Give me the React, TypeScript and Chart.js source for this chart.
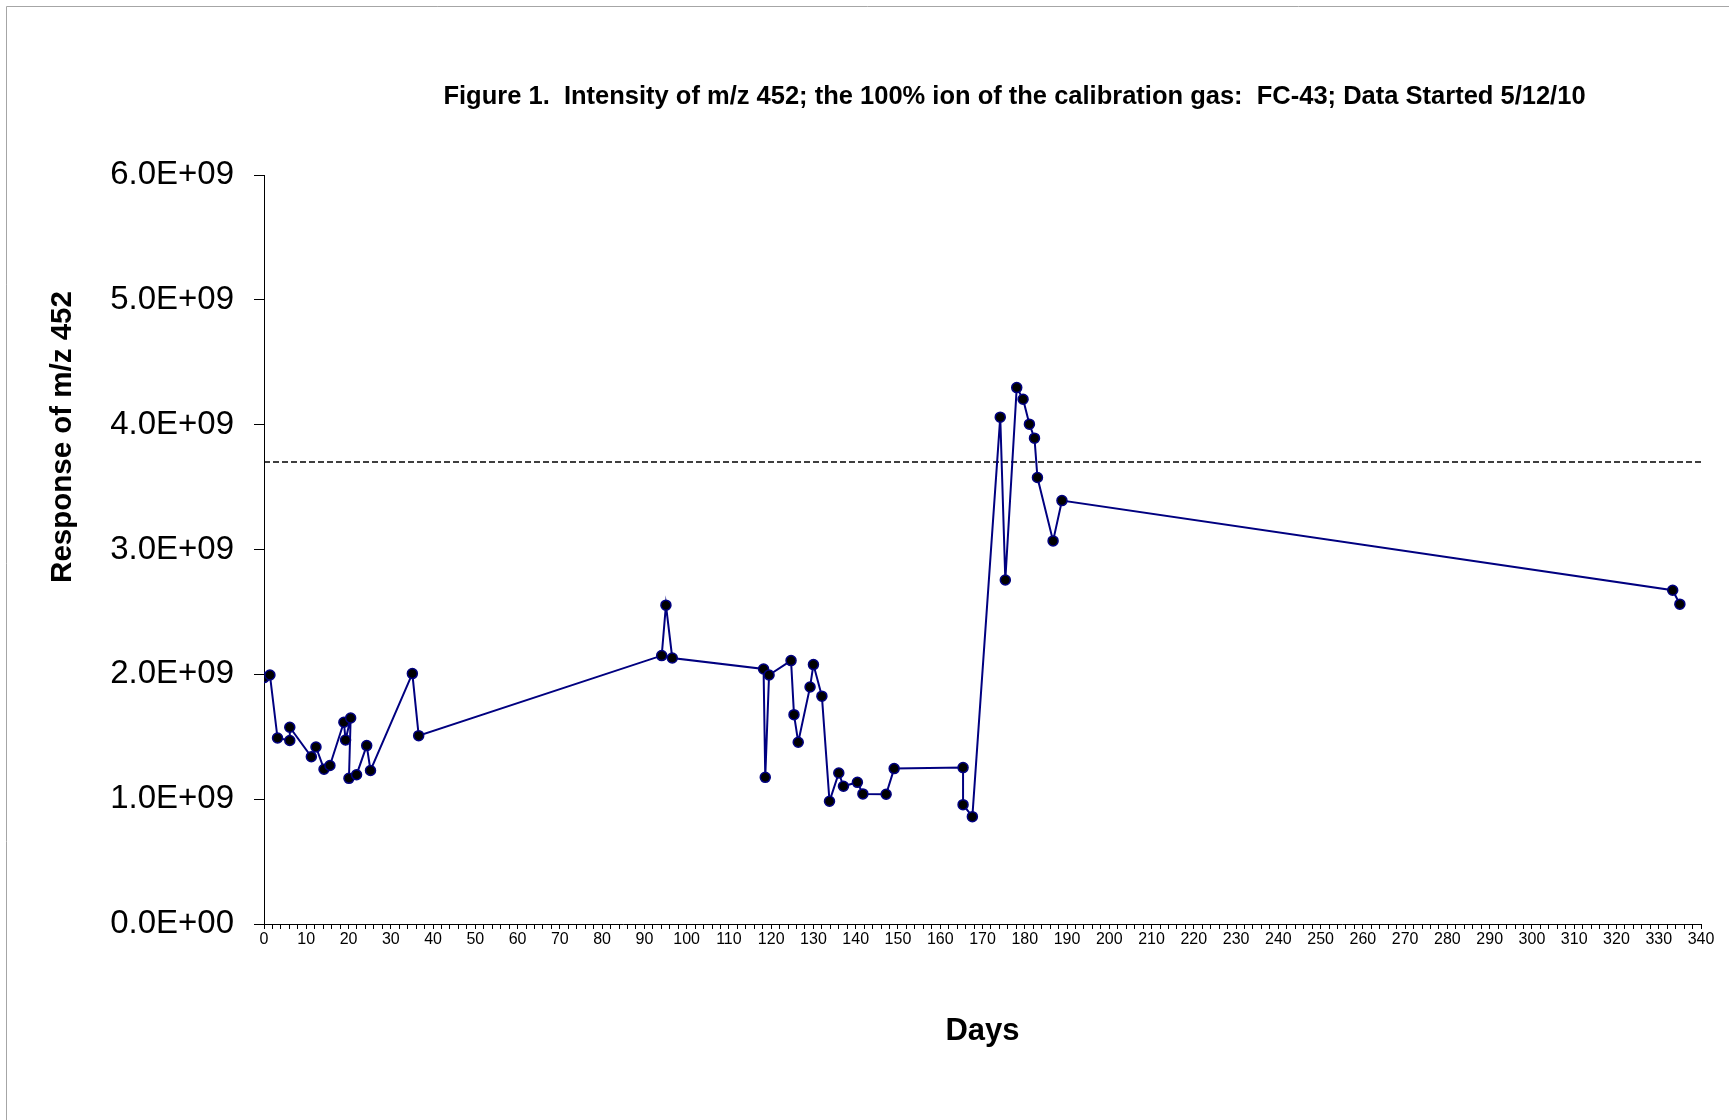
import React, { useEffect, useRef } from 'react';
import { Chart, registerables } from 'chart.js';

Chart.register(...registerables);

// ---- data ----
const days: number[] = [
  0, 1.4, 3.2, 6.1, 6.1, 11.2, 12.3, 14.2, 15.6, 18.9, 19.3, 20.5, 20.1, 21.9, 24.3, 25.2,
  35.1, 36.6, 94.1, 95.1, 96.6, 118.2, 118.6, 119.5, 124.7, 125.4, 126.4, 129.2, 130.0,
  132.0, 133.8, 136.0, 137.1, 140.4, 141.7, 147.2, 149.1, 165.4, 165.4, 167.6, 174.2,
  175.4, 178.1, 179.6, 181.1, 182.3, 183.0, 186.7, 188.8, 333.3, 335.0,
];

const responses: number[] = [
  1.974e9, 1.995e9, 1.49e9, 1.47e9, 1.576e9, 1.34e9, 1.418e9, 1.24e9, 1.27e9, 1.616e9,
  1.474e9, 1.65e9, 1.167e9, 1.196e9, 1.429e9, 1.23e9, 2.006e9, 1.509e9, 2.15e9, 2.554e9,
  2.131e9, 2.043e9, 1.175e9, 1.995e9, 2.11e9, 1.677e9, 1.456e9, 1.899e9, 2.078e9, 1.825e9,
  0.983e9, 1.21e9, 1.103e9, 1.135e9, 1.042e9, 1.039e9, 1.245e9, 1.253e9, 0.956e9, 0.86e9,
  4.06e9, 2.756e9, 4.297e9, 4.204e9, 4.004e9, 3.892e9, 3.577e9, 3.069e9, 3.392e9,
  2.674e9, 2.562e9,
];

const referenceDays: number[] = [0, 340];
const referenceLevels: number[] = [3.7e9, 3.7e9];

const xRange: number[] = [0, 340];
const yRange: number[] = [0, 6e9];
const xMajorStep = 10;
const xMinorStep = 2;
const yStep = 1e9;

const chartTitle = 'Figure 1.  Intensity of m/z 452; the 100% ion of the calibration gas:  FC-43; Data Started 5/12/10';
const xTitle = 'Days';
const yTitle = 'Response of m/z 452';

const FONT = '"Liberation Sans", Arial, Helvetica, sans-serif';

function formatSci(v: number): string {
  const [m, e] = v.toExponential(1).split('e');
  const sign = e.startsWith('-') ? '-' : '+';
  const digits = e.replace(/[+-]/, '').padStart(2, '0');
  return `${m}E${sign}${digits}`;
}

const decorPlugin = {
  id: 'decor',
  afterDraw(chart: any) {
    const { ctx, chartArea } = chart;
    ctx.save();
    // outer light-grey frame
    ctx.strokeStyle = '#a6a6a6';
    ctx.lineWidth = 1;
    ctx.beginPath();
    ctx.moveTo(6.5, chart.height);
    ctx.lineTo(6.5, 6.5);
    ctx.lineTo(chart.width, 6.5);
    ctx.stroke();

    ctx.fillStyle = '#000';
    ctx.textAlign = 'center';
    ctx.textBaseline = 'middle';
    // main title
    ctx.font = `bold 25.5px ${FONT}`;
    ctx.fillText(chartTitle, (chartArea.left + chartArea.right) / 2 + 32, chartArea.top - 78);
    // y axis title
    ctx.translate(63, chartArea.top + 262);
    ctx.rotate(-Math.PI / 2);
    ctx.font = `bold 29.5px ${FONT}`;
    ctx.fillText(yTitle, 0, 0);
    ctx.restore();
  },
};

export default function App() {
  const canvasRef = useRef<HTMLCanvasElement | null>(null);

  useEffect(() => {
    const canvas = canvasRef.current;
    if (!canvas) return;
    const mainPoints = days.map((d, i) => ({ x: d, y: responses[i] }));
    const refPoints = referenceDays.map((d, i) => ({ x: d, y: referenceLevels[i] }));

    const chart = new Chart(canvas, {
      type: 'scatter',
      data: {
        datasets: [
          {
            label: 'm/z 452',
            data: mainPoints,
            showLine: true,
            borderColor: '#000080',
            borderWidth: 2,
            pointRadius: 5,
            pointBackgroundColor: '#000000',
            pointBorderColor: '#000080',
            pointBorderWidth: 1.5,
            tension: 0,
          },
          {
            label: 'reference',
            data: refPoints,
            showLine: true,
            borderColor: '#000000',
            borderWidth: 1.5,
            borderDash: [6, 3],
            pointRadius: 0,
          },
        ],
      },
      options: {
        responsive: false,
        animation: false,
        devicePixelRatio: 1,
        layout: { padding: { left: 0, right: 28, top: 175, bottom: 0 } },
        plugins: {
          legend: { display: false },
          tooltip: { enabled: false },
          title: { display: false },
        },
        scales: {
          x: {
            type: 'linear',
            min: xRange[0],
            max: xRange[1],
            afterFit: (scale: any) => {
              scale.height = 196;
            },
            grid: {
              drawOnChartArea: false,
              drawTicks: true,
              tickLength: 5,
              tickColor: '#000',
              tickWidth: 1,
            },
            border: { display: true, color: '#000', width: 1 },
            ticks: {
              stepSize: xMinorStep,
              autoSkip: false,
              maxRotation: 0,
              minRotation: 0,
              padding: 1,
              color: '#000',
              font: { family: FONT, size: 16 },
              callback: (value: any) => {
                const v = Number(value);
                return Math.abs(v % xMajorStep) < 1e-6 ? String(Math.round(v)) : '';
              },
            },
            title: {
              display: true,
              text: xTitle,
              color: '#000',
              font: { family: FONT, size: 31, weight: 'bold', lineHeight: 1.2 },
              padding: { top: 0, bottom: 70 },
            },
          },
          y: {
            type: 'linear',
            min: yRange[0],
            max: yRange[1],
            afterFit: (scale: any) => {
              scale.width = 264;
            },
            grid: {
              drawOnChartArea: false,
              drawTicks: true,
              tickLength: 10,
              tickColor: '#000',
              tickWidth: 1,
            },
            border: { display: true, color: '#000', width: 1 },
            ticks: {
              stepSize: yStep,
              padding: 20,
              color: '#000',
              font: { family: FONT, size: 33 },
              callback: (value: any) => formatSci(Number(value)),
            },
          },
        },
      },
      plugins: [decorPlugin],
    } as any);

    return () => {
      chart.destroy();
    };
  }, []);

  return (
    <div style={{ position: 'absolute', left: 0, top: 0, width: 1729, height: 1120, background: '#fff' }}>
      <canvas ref={canvasRef} width={1729} height={1120} style={{ display: 'block' }} />
    </div>
  );
}
